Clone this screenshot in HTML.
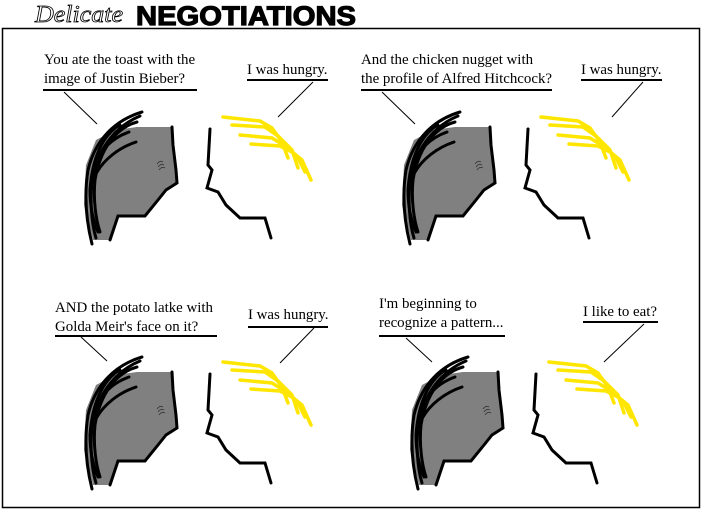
<!DOCTYPE html>
<html><head><style>
html,body{margin:0;padding:0;background:#fff;}
svg{display:block;}
text{font-family:"Liberation Serif",serif;font-size:14.9px;fill:#000;}
</style></head><body>
<svg width="702" height="511" viewBox="0 0 702 511" xmlns="http://www.w3.org/2000/svg">
<defs>
<g id="pair">
  <polygon points="137,127 172,127 173,145 176,170 177,183 166,190 158,200 145,216 118,216 110,240 93,240 84,205 86,165 96,140 115,130 137,127" fill="#808080"/>
  <g fill="none" stroke="#000" stroke-width="3" stroke-linecap="round">
    <path d="M172,127 L173,145 L176,170 L177,183 L166,190 L158,200 L145,216 L118,216 L110,240"/>
    <path d="M142,112 C115,120 95,140 88,170 C84,195 86,220 92,244"/>
    <path d="M140,116 C118,125 100,145 93,175 C89,200 92,225 96,238"/>
    <path d="M137,122 C115,128 100,150 95,180 C93,200 96,220 100,232"/>
    <path d="M129,132 C112,138 100,150 95,165"/>
    <path d="M136,142 C118,148 104,160 97,172"/>
    <path d="M120,125 C102,135 92,160 90,190 C90,210 95,225 98,232"/>
    <path d="M210,129 L208,165 L212,170 L207,188 L218,192 L226,205 L240,218 L265,218 L271,238"/>
  </g>
  <path d="M157,164 q3,-4 6,-2 M158,167 q3,-4 6,-2 M159,170 q3,-4 6,-2" fill="none" stroke="#333" stroke-width="0.8"/>
  <g fill="none" stroke="#ffe600" stroke-width="3.5" stroke-linecap="round">
    <path d="M223,117 L260,121 L272,128 L282,142 L288,158"/>
    <path d="M232,125 L265,127 L278,136 L292,150 L298,168"/>
    <path d="M240,135 L272,138 L285,146 L297,156 L305,172"/>
    <path d="M251,144 L280,146 L292,152 L302,160 L311,180"/>
  </g>
</g>
</defs>
<rect x="2.5" y="28.5" width="697" height="479" fill="none" stroke="#000" stroke-width="1.5"/>
<text x="35" y="22" style="font-family:'Liberation Serif',serif;font-style:italic;font-size:24px;fill:#fff;stroke:#000;stroke-width:0.8" textLength="88" lengthAdjust="spacingAndGlyphs">Delicate</text>
<text x="136" y="25" style="font-family:'Liberation Sans',sans-serif;font-weight:bold;font-size:27px;stroke:#000;stroke-width:1.2" textLength="220" lengthAdjust="spacingAndGlyphs">NEGOTIATIONS</text>

<use href="#pair" x="0" y="0"/>
<use href="#pair" x="318" y="0"/>
<use href="#pair" x="0" y="245"/>
<use href="#pair" x="326" y="245"/>

<g stroke="#000" fill="none">
  <line x1="43" y1="90" x2="197" y2="90" stroke-width="2"/>
  <line x1="64" y1="92" x2="97" y2="124"/>
  <line x1="247" y1="80" x2="328" y2="80" stroke-width="2"/>
  <line x1="313" y1="82" x2="278" y2="117"/>

  <line x1="361" y1="90" x2="552" y2="90" stroke-width="2"/>
  <line x1="382" y1="92" x2="415" y2="124"/>
  <line x1="581" y1="80" x2="662" y2="80" stroke-width="2"/>
  <line x1="643" y1="82" x2="612" y2="117"/>

  <line x1="55" y1="336" x2="217" y2="336" stroke-width="2"/>
  <line x1="81" y1="337" x2="107" y2="361"/>
  <line x1="248" y1="327" x2="328" y2="327" stroke-width="2"/>
  <line x1="314" y1="328" x2="280" y2="363"/>

  <line x1="379" y1="336" x2="505" y2="336" stroke-width="2"/>
  <line x1="406" y1="338" x2="432" y2="362"/>
  <line x1="583" y1="322" x2="658" y2="322" stroke-width="2"/>
  <line x1="644" y1="324" x2="604" y2="362"/>
</g>

<text x="44" y="64">You ate the toast with the</text>
<text x="44" y="83">image of Justin Bieber?</text>
<text x="247" y="74">I was hungry.</text>

<text x="361" y="64">And the chicken nugget with</text>
<text x="361" y="83">the profile of Alfred Hitchcock?</text>
<text x="581" y="74">I was hungry.</text>

<text x="55" y="312">AND the potato latke with</text>
<text x="55" y="331">Golda Meir's face on it?</text>
<text x="248" y="319">I was hungry.</text>

<text x="379" y="308">I'm beginning to</text>
<text x="379" y="327">recognize a pattern...</text>
<text x="583" y="316">I like to eat?</text>
</svg>
</body></html>
